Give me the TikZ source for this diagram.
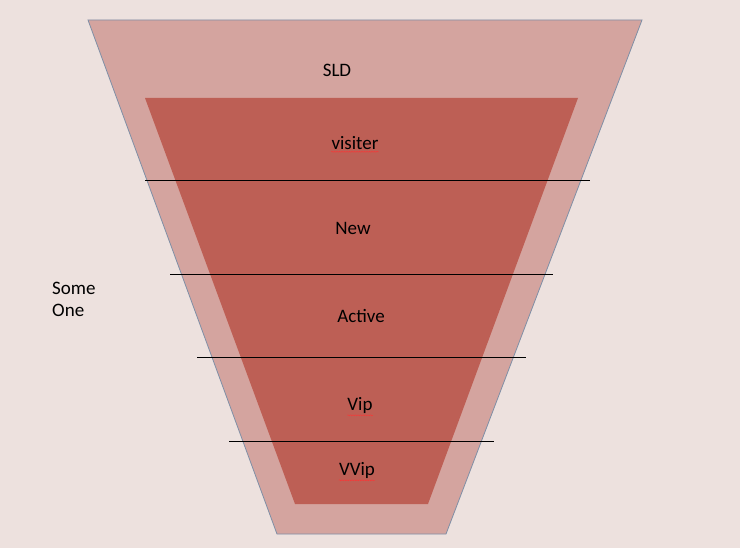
\documentclass[tikz,border=0pt]{standalone}
\usepackage{fontspec}
\setmainfont{Carlito}
\usetikzlibrary{decorations.pathmorphing}
\definecolor{bg}{HTML}{EDE1DE}
\definecolor{outerc}{HTML}{D4A49F}
\definecolor{innerc}{HTML}{BD5F55}
\definecolor{edgec}{HTML}{7F8FA6}
\tikzset{lbl/.style={font=\fontsize{19}{22}\selectfont, text=black, inner sep=1pt},
 sep/.style={black, line width=0.9pt},
 spell/.style={red!80!white, line width=0.4pt, decorate, decoration={snake, amplitude=0.5pt, segment length=2.5pt}}}
\begin{document}
\begin{tikzpicture}[x=1pt,y=-1pt]
\useasboundingbox (0,0) rectangle (740,548);
\fill[bg] (0,0) rectangle (740,548);
\fill[white!60!bg] (0,0) rectangle (740,548);
\fill[bg] (0,0) rectangle (740,548);
\draw[edgec, fill=outerc, line width=0.8pt] (88,20) -- (642,20) -- (446,534) -- (277,534) -- cycle;
\fill[innerc] (145,98) -- (578,98) -- (428,504) -- (295,504) -- cycle;
\coordinate (l1a) at (145,180); \coordinate (l1b) at (590,180);
\coordinate (l2a) at (170,274); \coordinate (l2b) at (553,274);
\coordinate (l3a) at (197,357); \coordinate (l3b) at (526,357);
\coordinate (l4a) at (229,441); \coordinate (l4b) at (494,441);
\draw[sep] (l1a) -- (l1b);
\draw[sep] (l2a) -- (l2b);
\draw[sep] (l3a) -- (l3b);
\draw[sep] (l4a) -- (l4b);
\node[lbl] (sld) at (337,70) {SLD};
\node[lbl] (vis) at (355,143) {visiter};
\node[lbl] (new) at (353,228) {New};
\node[lbl] (act) at (361,316) {Active};
\node[lbl] (vip) at (360,405) {Vip};
\node[lbl] (vvip) at (357,470) {VVip};
\node[lbl, align=left, anchor=west] (some) at (51,299) {Some\\One};
\draw[spell] ([xshift=1pt,yshift=-1pt]vis.south west) -- ([xshift=-1pt,yshift=-1pt]vis.south east);
\draw[spell] ([xshift=1pt,yshift=-1pt]vip.south west) -- ([xshift=-1pt,yshift=-1pt]vip.south east);
\draw[spell] ([xshift=1pt,yshift=-1pt]vvip.south west) -- ([xshift=-1pt,yshift=-1pt]vvip.south east);
\end{tikzpicture}
\end{document}
